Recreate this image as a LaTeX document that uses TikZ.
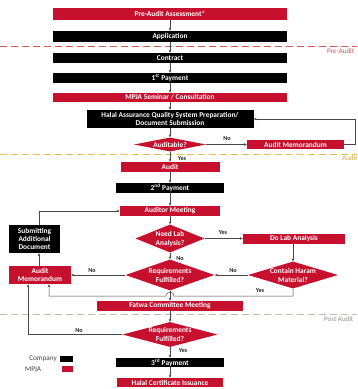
\documentclass[tikz,border=0pt]{standalone}
\usepackage{fontspec}
\setmainfont{Carlito}
\usetikzlibrary{shapes.geometric,arrows.meta}
\definecolor{mred}{RGB}{198,16,46}
\definecolor{linec}{RGB}{70,70,70}
\definecolor{dashr}{RGB}{222,80,80}
\definecolor{dashy}{RGB}{232,190,70}
\definecolor{dashg}{RGB}{185,192,170}
\begin{document}
\begin{tikzpicture}[x=1pt,y=-1pt,
  box/.style={text=white,font=\fontsize{7.4}{8.4}\selectfont\bfseries,inner sep=0pt,align=center},
  rbox/.style={box,fill=mred},
  bbox/.style={box,fill=black},
  dia/.style={diamond,fill=mred,inner sep=0pt},
  dtext/.style={text=white,font=\fontsize{7.4}{9}\selectfont\bfseries,align=center,inner sep=0pt},
  arr/.style={draw=linec,line width=0.5pt,-{Stealth[length=3pt,width=2.6pt]}},
  lab/.style={font=\fontsize{6.2}{7}\selectfont\bfseries,text=black!85,inner sep=0pt},
  sep/.style={line width=0.8pt,dash pattern=on 7pt off 4pt},
  septext/.style={font=\fontsize{7}{8}\selectfont,inner sep=0pt,anchor=west},
  legtext/.style={font=\fontsize{7.2}{8}\selectfont,text=black!75,inner sep=0pt}]
\useasboundingbox (0,0) rectangle (357,389);
\fill[white] (0,0) rectangle (357,389);
% separators
\draw[sep,draw=dashr] (0,46) -- (357,46);
\node[septext,text=dashr] (tpre) at (327,51) {Pre-Audit};
\draw[sep,draw=dashy] (0,154) -- (357,154);
\node[septext,text=dashy!90!black] (taud) at (342,158.5) {Audit};
\draw[sep,draw=dashg] (0,314.5) -- (357,314.5);
\node[septext,text=black!45] (tpost) at (324,319) {Post Audit};
% nodes
\node[rbox,minimum width=234pt,minimum height=12pt] (pre) at (170,14) {Pre-Audit Assessment*};
\node[bbox,minimum width=234pt,minimum height=11pt] (app) at (170,36.5) {Application};
\node[bbox,minimum width=234pt,minimum height=10pt] (contract) at (170,58) {Contract};
\node[bbox,minimum width=234pt,minimum height=10pt] (pay1) at (170,78) {1\textsuperscript{st} Payment};
\node[rbox,minimum width=234pt,minimum height=9pt] (mpja) at (170,97.5) {MPJA Seminar / Consultation};
\node[bbox,minimum width=167pt,minimum height=18pt] (has) at (170,119) {Halal Assurance Quality System Preparation/\\Document Submission};
\node[dia,minimum width=72pt,minimum height=14pt] (auditable) at (170,144.5) {};
\node[dtext] (auditableT) at (auditable) {Auditable?};
\node[rbox,minimum width=97pt,minimum height=9pt] (am1) at (295.5,144.5) {Audit Memorandum};
\node[rbox,minimum width=99pt,minimum height=10pt] (audit) at (170,167) {Audit};
\node[bbox,minimum width=108pt,minimum height=10pt] (pay2) at (170,188) {2\textsuperscript{nd} Payment};
\node[rbox,minimum width=100pt,minimum height=10pt] (meet) at (170,211) {Auditor Meeting};
\node[bbox,minimum width=51pt,minimum height=28pt] (sub) at (34.5,239) {Submitting\\Additional\\Document};
\node[dia,minimum width=69pt,minimum height=28pt] (needlab) at (170,238.5) {};
\node[dtext] (needlabT) at (needlab) {Need Lab\\Analysis?};
\node[rbox,minimum width=102pt,minimum height=10pt] (dolab) at (294,238.5) {Do Lab Analysis};
\node[dia,minimum width=90pt,minimum height=27pt] (haram) at (293,275) {};
\node[dtext] (haramT) at (haram) {Contain Haram\\Material?};
\node[dia,minimum width=89pt,minimum height=31pt] (req1) at (170,275) {};
\node[dtext] (req1T) at (req1) {Requirements\\Fulfilled?};
\node[rbox,minimum width=62pt,minimum height=18pt] (am2) at (40,275) {Audit\\Memorandum};
\node[rbox,minimum width=146pt,minimum height=10pt] (fatwa) at (170,306) {Fatwa Committee Meeting};
\node[dia,minimum width=95pt,minimum height=25pt] (req2) at (170,334.5) {};
\node[dtext] (req2T) at (req2) {Requirements\\Fulfilled?};
\node[bbox,minimum width=108pt,minimum height=9pt] (pay3) at (170,362.5) {3\textsuperscript{rd} Payment};
\node[rbox,minimum width=106pt,minimum height=9pt] (cert) at (170,382.5) {Halal Certificate Issuance};
% legend
\node[legtext,anchor=east] (lcomp) at (57,358.5) {Company};
\node[fill=black,minimum width=13pt,minimum height=6pt,inner sep=0pt] (lkb) at (66.5,358.5) {};
\node[legtext,anchor=west] (lmpja) at (25,369) {MPJA};
\node[fill=mred,minimum width=11pt,minimum height=6pt,inner sep=0pt] (lkr) at (67.5,369) {};
% coordinates
\coordinate (r1) at (355,144.5);
\coordinate (v1) at (39,0);
\coordinate (v2) at (28,0);
\coordinate (v3) at (49,296);
% connectors
\draw[arr] (pre) -- (app);
\draw[arr] (app) -- (contract);
\draw[arr] (contract) -- (pay1);
\draw[arr] (pay1) -- (mpja);
\draw[arr] (mpja) -- (has);
\draw[arr] (has) -- (auditable);
\draw[arr] (auditable) -- (am1);
\draw[arr] (am1.east) -- (r1) |- (has.east);
\draw[arr] (auditable) -- (audit);
\draw[arr] (audit) -- (pay2);
\draw[arr] (pay2) -- (meet);
\draw[arr] (meet) -- (needlab);
\draw[arr] (needlab) -- (dolab);
\draw[arr] (dolab.south -| haram.north) -- (haram.north);
\draw[arr] (needlab) -- (req1);
\draw[arr] (haram) -- (req1);
\draw[arr] (req1) -- (am2);
\draw[arr] (am2.north -| v1) -- (sub.south -| v1);
\draw[arr] (sub.north -| v1) |- (meet.west);
\draw[arr] (haram.south) -- (haram.south |- v3) -- (174,296) .. controls (174,291) and (166,291) .. (166,296) -- (v3) -- (am2.south -| v3);
\draw[arr] (req1) -- (fatwa);
\draw[arr] (fatwa) -- (req2);
\draw[arr] (req2.west) -| (am2.south -| v2);
\draw[arr] (req2) -- (pay3);
\draw[arr] (pay3) -- (cert);
% labels
\node[lab] (l1) at (227,138.5) {No};
\node[lab] (l2) at (182,158.5) {Yes};
\node[lab] (l3) at (223,233) {Yes};
\node[lab] (l4) at (180,258.5) {No};
\node[lab] (l5) at (233,271) {No};
\node[lab] (l6) at (92,271) {No};
\node[lab] (l7) at (260,291) {Yes};
\node[lab] (l8) at (79,331) {No};
\node[lab] (l9) at (183,351) {Yes};
\end{tikzpicture}
\end{document}
